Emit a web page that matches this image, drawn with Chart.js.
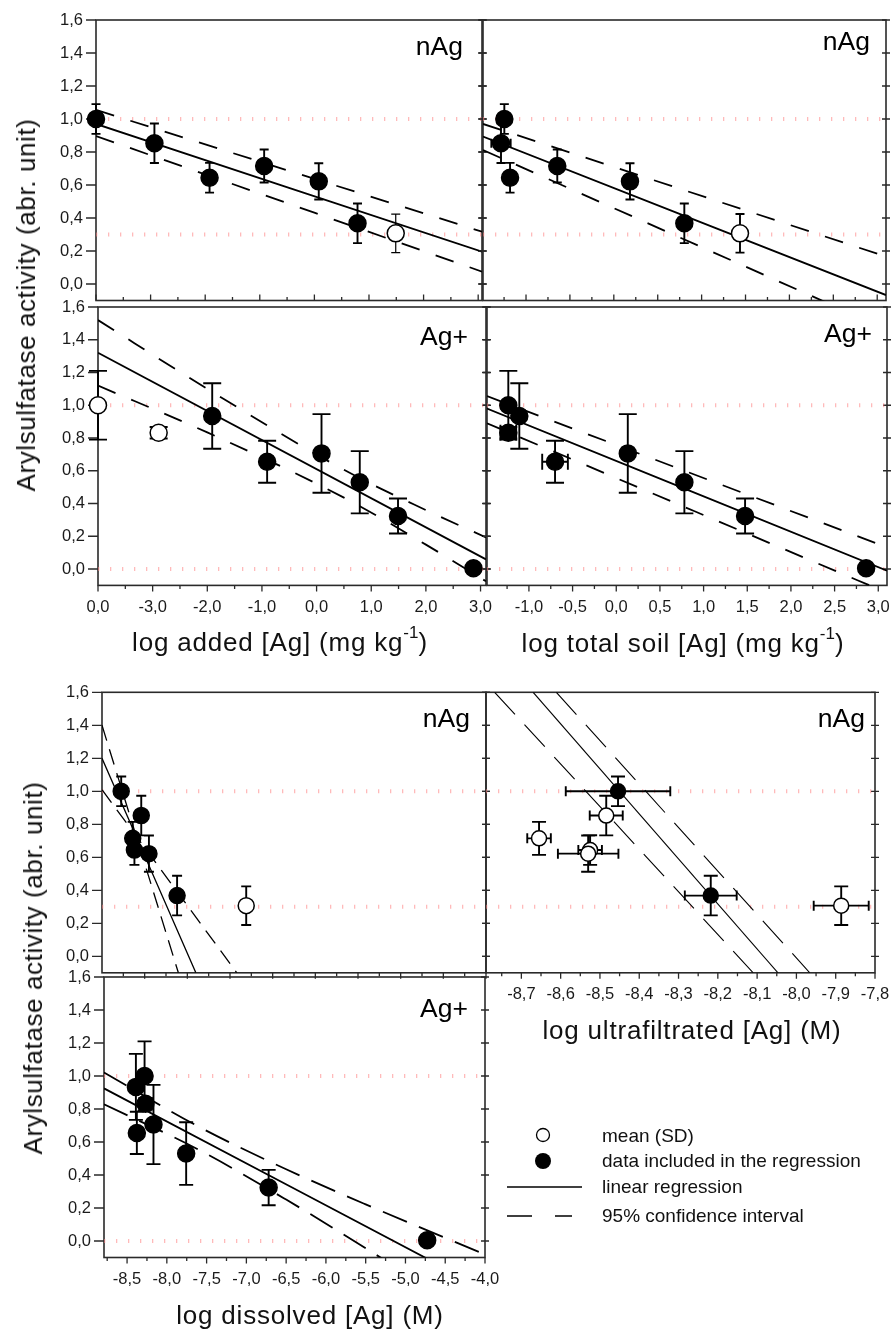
<!DOCTYPE html>
<html>
<head>
<meta charset="utf-8">
<title>Arylsulfatase activity vs Ag</title>
<script src="https://cdn.jsdelivr.net/npm/chart.js@4.4.1/dist/chart.umd.min.js"></script>
<style>
  html, body { margin: 0; padding: 0; background: #fff; }
  #page { position: relative; width: 894px; height: 1333px; overflow: hidden;
          font-family: "Liberation Sans", Arial, sans-serif; color: #111; }
  #page canvas { position: absolute; left: 0; top: 0; }
  .title { position: absolute; white-space: nowrap; font-size: 26px; letter-spacing: 0.8px; line-height: 1; }
  .title .sup { font-size: 17px; position: relative; top: -13px; letter-spacing: 0; }
  .xtitle { transform: translateX(-50%); }
  .ytitle { transform: translate(-50%, -50%) rotate(-90deg); letter-spacing: 0.6px; }
  .leg { position: absolute; left: 602px; font-size: 19px; line-height: 1; white-space: nowrap; }
</style>
</head>
<body>
<div id="page">
  <canvas id="p1" width="894" height="1333"></canvas>
  <canvas id="p2" width="894" height="1333"></canvas>
  <canvas id="p3" width="894" height="1333"></canvas>
  <canvas id="p4" width="894" height="1333"></canvas>
  <canvas id="p5" width="894" height="1333"></canvas>
  <canvas id="p6" width="894" height="1333"></canvas>
  <canvas id="p7" width="894" height="1333"></canvas>

  <div class="title ytitle" style="left:25.5px; top:305px;">Arylsulfatase activity (abr. unit)</div>
  <div class="title ytitle" style="left:32.5px; top:968px;">Arylsulfatase activity (abr. unit)</div>
  <div class="title xtitle" style="left:280px; top:629px;">log added [Ag] (mg kg<span class="sup">-1</span>)</div>
  <div class="title xtitle" style="left:683px; top:630px;">log total soil [Ag] (mg kg<span class="sup">-1</span>)</div>
  <div class="title xtitle" style="left:692px; top:1017px;">log ultrafiltrated [Ag] (M)</div>
  <div class="title xtitle" style="left:310px; top:1302px;">log dissolved [Ag] (M)</div>

  <svg style="position:absolute; left:495px; top:1115px;" width="100" height="115">
    <circle cx="48" cy="20" r="6.5" fill="#fff" stroke="#000" stroke-width="1.3"/>
    <circle cx="48" cy="46" r="8" fill="#000"/>
    <line x1="12" y1="72" x2="87" y2="72" stroke="#000" stroke-width="1.5"/>
    <line x1="12" y1="101" x2="77" y2="101" stroke="#000" stroke-width="1.5" stroke-dasharray="25 23"/>
  </svg>
  <div class="leg" style="top:1125.5px;">mean (SD)</div>
  <div class="leg" style="top:1151px;">data included in the regression</div>
  <div class="leg" style="top:1177px;">linear regression</div>
  <div class="leg" style="top:1205.5px;">95% confidence interval</div>
</div>

<script>
const FONT = '"Liberation Sans", Arial, sans-serif';
Chart.defaults.font.family = FONT;

// ---- nAg treatments (control first) ----
const nAgActivity     = [1.00, 0.853, 0.644, 0.715, 0.622, 0.368, 0.307];
const nAgActivitySD   = [0.09, 0.12, 0.09, 0.10, 0.11, 0.12, 0.117];
const nAgLogAdded     = [-4.0, -2.93, -1.92, -0.92, 0.08, 0.79, 1.49];
const nAgLogTotal     = [-1.247, -1.285, -1.182, -0.644, 0.184, 0.803, 1.437];
const nAgLogTotalSD   = [0, 0.11, 0, 0, 0, 0, 0];
const nAgLogDissolved = [-8.775, -8.54, -8.62, -8.64, -8.45, -8.12, -7.31];
const nAgLogUltra     = [-8.454, -8.484, -8.525, -8.655, -8.53, -8.218, -7.886];
const nAgLogUltraSD   = [0.133, 0.042, 0.03, 0.03, 0.077, 0.066, 0.07];
const nAgInFit        = [1, 1, 1, 1, 1, 1, 0];
const nAgUltraInFit   = [1, 0, 0, 0, 0, 1, 0];

// ---- Ag+ treatments (control first) ----
const agActivity      = [1.00, 0.832, 0.934, 0.655, 0.706, 0.530, 0.324, 0.005];
const agActivitySD    = [0.21, 0.035, 0.20, 0.128, 0.24, 0.19, 0.107, 0];
const agLogAdded      = [-4.0, -2.89, -1.91, -0.905, 0.09, 0.79, 1.49, 2.87];
const agLogTotal      = [-1.236, -1.236, -1.11, -0.701, 0.132, 0.78, 1.475, 2.861];
const agLogTotalSD    = [0, 0.09, 0, 0.147, 0, 0, 0, 0];
const agLogDissolved  = [-8.28, -8.269, -8.389, -8.377, -8.168, -7.757, -6.72, -4.727];
const agAddedInFit    = [0, 0, 1, 1, 1, 1, 1, 1];
const agInFit         = [1, 1, 1, 1, 1, 1, 1, 1];

// ---- regression lines and 95% bands ----
const nAgAddedFit    = { x: [-4.0, 3.07], y: [0.970, 0.196] };
const nAgAddedLower  = { x: [-4.0, 3.07], y: [0.897, 0.075] };
const nAgAddedUpper  = { x: [-4.0, 3.07], y: [1.055, 0.317] };
const nAgTotalFit    = { x: [-1.49, 3.1], y: [0.893, -0.067] };
const nAgTotalLower  = { x: [-1.49, 3.1], y: [0.812, -0.273] };
const nAgTotalUpper  = { x: [-1.49, 3.1], y: [0.970, 0.166] };
const agAddedFit     = { x: [-4.0, 3.1], y: [1.321, 0.059] };
const agAddedLower   = { x: [-4.0, -2.0, 0.5, 2.0, 3.1], y: [1.12, 0.834, 0.436, 0.149, -0.075] };
const agAddedUpper   = { x: [-4.0, -2.0, 0.5, 2.0, 3.1], y: [1.52, 1.10, 0.606, 0.36, 0.193] };
const agTotalFit     = { x: [-1.48, 3.1], y: [0.98, -0.01] };
const agTotalLower   = { x: [-1.48, 3.1], y: [0.89, -0.145] };
const agTotalUpper   = { x: [-1.48, 3.1], y: [1.056, 0.132] };
const nAgDissolvedFit   = { x: [-9.0, -7.90], y: [1.20, -0.10] };
const nAgDissolvedLower = { x: [-9.0, -7.42], y: [1.01, -0.10] };
const nAgDissolvedUpper = { x: [-9.0, -8.105], y: [1.40, -0.10] };
const nAgUltraFit    = { x: [-8.67, -8.047], y: [1.6, -0.1] };
const nAgUltraLower  = { x: [-8.768, -8.110], y: [1.6, -0.1] };
const nAgUltraUpper  = { x: [-8.611, -7.966], y: [1.6, -0.1] };
const agDissolvedFit   = { x: [-8.79, -4.0], y: [0.925, -0.292] };
const agDissolvedLower = { x: [-8.79, -7.6, -6.5, -5.5, -4.0], y: [0.829, 0.553, 0.251, -0.044, -0.502] };
const agDissolvedUpper = { x: [-8.79, -7.6, -6.5, -5.5, -4.0], y: [1.021, 0.693, 0.435, 0.222, -0.082] };

// reference activity levels
const nAgLimits = [1.0, 0.3];
const agLimits  = [1.0, 0.0];

// ---- axis ticks ----
const activityTicks    = [0, 0.2, 0.4, 0.6, 0.8, 1.0, 1.2, 1.4, 1.6];
const activityLabels   = ['0,0', '0,2', '0,4', '0,6', '0,8', '1,0', '1,2', '1,4', '1,6'];
const addedTicks       = [-4, -3, -2, -1, 0, 1, 2, 3];
const addedLabels      = ['0,0', '-3,0', '-2,0', '-1,0', '0,0', '1,0', '2,0', '3,0'];
const totalTicks       = [-1, -0.5, 0, 0.5, 1, 1.5, 2, 2.5, 3];
const totalLabels      = ['-1,0', '-0,5', '0,0', '0,5', '1,0', '1,5', '2,0', '2,5', '3,0'];
const dissolvedTicks   = [-8.5, -8, -7.5, -7, -6.5, -6, -5.5, -5, -4.5, -4];
const dissolvedLabels  = ['-8,5', '-8,0', '-7,5', '-7,0', '-6,5', '-6,0', '-5,5', '-5,0', '-4,5', '-4,0'];
const ultraTicks       = [-8.7, -8.6, -8.5, -8.4, -8.3, -8.2, -8.1, -8.0, -7.9, -7.8];
const ultraLabels      = ['-8,7', '-8,6', '-8,5', '-8,4', '-8,3', '-8,2', '-8,1', '-8,0', '-7,9', '-7,8'];

const W = 894, H = 1333;
// room reserved for the tick labels outside each plot box
const Y_AXIS_W = 60, X_AXIS_H = 34;

const styleTop   = { radius: 8.5, cap: 9,  capX: 9,  lineWidth: 1.8, dash: [19, 17], bar: 1.9 };
const styleAgTop = { radius: 8.5, cap: 18, capX: 16, lineWidth: 1.8, dash: [19, 17], bar: 1.9 };
const styleDiss  = { radius: 8,   cap: 10, capX: 10, lineWidth: 1.3, dash: [16, 9],  bar: 1.9 };
const styleUltra = { radius: 7.5, cap: 14, capX: 10, lineWidth: 1.1, dash: [30, 14], bar: 1.9 };
const styleAgDis = { radius: 8.5, cap: 14, capX: 10, lineWidth: 1.8, dash: [26, 13], bar: 1.9 };

const panels = [
  { id: 'p1', box: [96, 20, 482, 300.5], xRange: [-4, 3.07], xTicks: addedTicks, xLabels: null,
    showY: true, tickDir: -1, tag: 'nAg', tagAt: [19, 35], style: styleTop, limits: nAgLimits,
    pts: [nAgLogAdded, nAgActivity, nAgActivitySD, null, nAgInFit],
    lines: [[nAgAddedFit, false], [nAgAddedLower, true], [nAgAddedUpper, true]] },
  { id: 'p2', box: [483, 20, 886, 300.5], xRange: [-1.49, 3.1], xTicks: totalTicks, xLabels: null,
    showY: false, tickDir: -1, tag: 'nAg', tagAt: [16, 30], style: styleTop, limits: nAgLimits,
    pts: [nAgLogTotal, nAgActivity, nAgActivitySD, nAgLogTotalSD, nAgInFit],
    lines: [[nAgTotalFit, false], [nAgTotalLower, true], [nAgTotalUpper, true]] },
  { id: 'p3', box: [98, 307, 486, 585.4], xRange: [-4, 3.1], xTicks: addedTicks, xLabels: addedLabels,
    showY: true, tickDir: 1, tag: 'Ag+', tagAt: [18, 38], style: styleAgTop, limits: agLimits,
    pts: [agLogAdded, agActivity, agActivitySD, null, agAddedInFit],
    lines: [[agAddedFit, false], [agAddedLower, true], [agAddedUpper, true]] },
  { id: 'p4', box: [487, 307, 887, 585.4], xRange: [-1.48, 3.1], xTicks: totalTicks, xLabels: totalLabels,
    showY: false, tickDir: 1, tag: 'Ag+', tagAt: [15, 35], style: styleAgTop, limits: agLimits,
    pts: [agLogTotal, agActivity, agActivitySD, agLogTotalSD, agInFit],
    lines: [[agTotalFit, false], [agTotalLower, true], [agTotalUpper, true]] },
  { id: 'p5', box: [102, 692.3, 486, 972.8], xRange: [-9.0, -4.5], xTicks: dissolvedTicks, xLabels: null,
    showY: true, tickDir: 1, tag: 'nAg', tagAt: [16, 34.5], style: styleDiss, limits: nAgLimits,
    pts: [nAgLogDissolved, nAgActivity, nAgActivitySD, null, nAgInFit],
    lines: [[nAgDissolvedFit, false], [nAgDissolvedLower, true], [nAgDissolvedUpper, true]] },
  { id: 'p6', box: [486, 692.3, 875, 972.8], xRange: [-8.79, -7.8], xTicks: ultraTicks, xLabels: ultraLabels,
    showY: false, tickDir: 1, tag: 'nAg', tagAt: [10, 34.5], style: styleUltra, limits: nAgLimits,
    pts: [nAgLogUltra, nAgActivity, nAgActivitySD, nAgLogUltraSD, nAgUltraInFit],
    lines: [[nAgUltraFit, false], [nAgUltraLower, true], [nAgUltraUpper, true]] },
  { id: 'p7', box: [104, 977, 485, 1257.5], xRange: [-8.79, -4.0], xTicks: dissolvedTicks, xLabels: dissolvedLabels,
    showY: true, tickDir: 1, tag: 'Ag+', tagAt: [17, 40], style: styleAgDis, limits: agLimits,
    pts: [agLogDissolved, agActivity, agActivitySD, null, agInFit],
    lines: [[agDissolvedFit, false], [agDissolvedLower, true], [agDissolvedUpper, true]] },
];

function inRange(v, r) { return v >= r[0] - 1e-9 && v <= r[1] + 1e-9; }

function axis(dir, range, ticks, labels) {
  return {
    type: 'linear',
    position: dir === 'x' ? 'bottom' : 'left',
    min: range[0], max: range[1],
    grid: { display: false, drawTicks: false },
    border: { display: false },
    ticks: {
      display: !!labels, autoSkip: false, maxRotation: 0, minRotation: 0,
      padding: dir === 'x' ? 12 : 13, color: '#1a1a1a', font: { family: FONT, size: 16.5 },
      callback: v => labels ? labels[ticks.findIndex(t => Math.abs(t - v) < 1e-9)] : ''
    },
    afterBuildTicks: s => { s.ticks = ticks.filter(v => inRange(v, range)).map(v => ({ value: v })); },
    afterFit: s => {
      if (dir === 'x') s.height = X_AXIS_H; else s.width = Y_AXIS_W;
      s.paddingLeft = s.paddingRight = s.paddingTop = s.paddingBottom = 0;
    }
  };
}

// open circles for excluded means, filled for points used in the regression
function pointSets(p) {
  const [xs, ys, ye, xe, inFit] = p.pts;
  const rows = xs.map((x, i) => ({ x, y: ys[i], ye: ye[i], xe: xe ? xe[i] : 0 }));
  const s = p.style;
  const base = { order: 0, clip: false, pointRadius: s.radius, pointBorderColor: '#000',
                 pointBorderWidth: 1.5, pointHoverRadius: s.radius, errorBars: true };
  return [
    Object.assign({}, base, { data: rows.filter((_, i) => inFit[i]), pointBackgroundColor: '#000', barWidth: s.bar }),
    Object.assign({}, base, { data: rows.filter((_, i) => !inFit[i]), pointBackgroundColor: '#fff',
                              barWidth: p.id === 'p1' ? 1.2 : s.bar }),
  ];
}

function lineSets(p) {
  return p.lines.map(([l, dashed]) => ({
    order: 1, showLine: true, pointRadius: 0,
    data: l.x.map((x, i) => ({ x, y: l.y[i] })),
    borderColor: '#000', borderWidth: p.style.lineWidth,
    borderDash: dashed ? p.style.dash : [],
    cubicInterpolationMode: 'monotone'
  }));
}

function limitSets(p) {
  return p.limits.map(v => ({
    order: 2, showLine: true, pointRadius: 0,
    data: [{ x: p.xRange[0], y: v }, { x: p.xRange[1], y: v }],
    borderColor: 'rgba(255, 130, 130, 0.55)', borderWidth: 4, borderDash: [1.3, 10.7]
  }));
}

// frame, tick marks, error bars and the panel tag
function panelPlugin(p) {
  return {
    id: 'panel_' + p.id,
    beforeDatasetsDraw(chart) {
      const { ctx, chartArea: a, scales: { x, y } } = chart;
      ctx.save();
      ctx.strokeStyle = '#2a2a2a';
      ctx.lineWidth = 1.6;
      ctx.strokeRect(a.left, a.top, a.right - a.left, a.bottom - a.top);
      ctx.lineWidth = 1.3;
      ctx.beginPath();
      y.ticks.forEach(t => {
        const py = y.getPixelForValue(t.value);
        if (p.showY) { ctx.moveTo(a.left - 10, py); ctx.lineTo(a.left, py); }
        else { ctx.moveTo(a.left - 4, py); ctx.lineTo(a.left + 4, py); }
        ctx.moveTo(a.right - 4, py); ctx.lineTo(a.right + 4, py);
      });
      const major = x.ticks.map(t => t.value);
      const step = major[1] - major[0];
      const minor = [];
      major.forEach(v => [v - step / 2, v + step / 2].forEach(m => {
        if (inRange(m, p.xRange) && !minor.some(o => Math.abs(o - m) < 1e-9)) minor.push(m);
      }));
      major.forEach(v => {
        const px = x.getPixelForValue(v);
        ctx.moveTo(px, a.bottom); ctx.lineTo(px, a.bottom + p.tickDir * 6);
      });
      minor.forEach(v => {
        const px = x.getPixelForValue(v);
        ctx.moveTo(px, a.bottom); ctx.lineTo(px, a.bottom + p.tickDir * 3.5);
      });
      ctx.stroke();
      ctx.restore();
    },
    beforeDatasetDraw(chart, args) {
      const ds = chart.data.datasets[args.index];
      if (!ds.errorBars) return;
      const { ctx, scales: { x, y } } = chart;
      const c = p.style.cap / 2, cx = p.style.capX / 2;
      ctx.save();
      ctx.strokeStyle = '#000';
      ctx.lineWidth = ds.barWidth;
      ctx.beginPath();
      ds.data.forEach(d => {
        const px = x.getPixelForValue(d.x), py = y.getPixelForValue(d.y);
        if (d.ye) {
          const t = y.getPixelForValue(d.y + d.ye), b = y.getPixelForValue(d.y - d.ye);
          ctx.moveTo(px, t); ctx.lineTo(px, b);
          ctx.moveTo(px - c, t); ctx.lineTo(px + c, t);
          ctx.moveTo(px - c, b); ctx.lineTo(px + c, b);
        }
        if (d.xe) {
          const l = x.getPixelForValue(d.x - d.xe), r = x.getPixelForValue(d.x + d.xe);
          ctx.moveTo(l, py); ctx.lineTo(r, py);
          ctx.moveTo(l, py - cx); ctx.lineTo(l, py + cx);
          ctx.moveTo(r, py - cx); ctx.lineTo(r, py + cx);
        }
      });
      ctx.stroke();
      ctx.restore();
    },
    afterDatasetsDraw(chart) {
      const { ctx, chartArea: a } = chart;
      ctx.save();
      ctx.font = '26.5px ' + FONT;
      ctx.fillStyle = '#000';
      ctx.textAlign = 'right';
      ctx.textBaseline = 'alphabetic';
      ctx.fillText(p.tag, a.right - p.tagAt[0], a.top + p.tagAt[1]);
      ctx.restore();
    }
  };
}

panels.forEach(p => {
  const [L, T, R, B] = p.box;
  new Chart(document.getElementById(p.id), {
    type: 'scatter',
    data: { datasets: [...pointSets(p), ...lineSets(p), ...limitSets(p)] },
    options: {
      responsive: false,
      animation: false,
      events: [],
      layout: { autoPadding: false,
                padding: { left: L - Y_AXIS_W, top: T, right: W - R, bottom: H - B - X_AXIS_H } },
      plugins: { legend: { display: false }, tooltip: { enabled: false } },
      scales: {
        x: axis('x', p.xRange, p.xTicks, p.xLabels),
        y: axis('y', [-0.1, 1.6], activityTicks, p.showY ? activityLabels : null)
      }
    },
    plugins: [panelPlugin(p)]
  });
});
</script>
</body>
</html>
